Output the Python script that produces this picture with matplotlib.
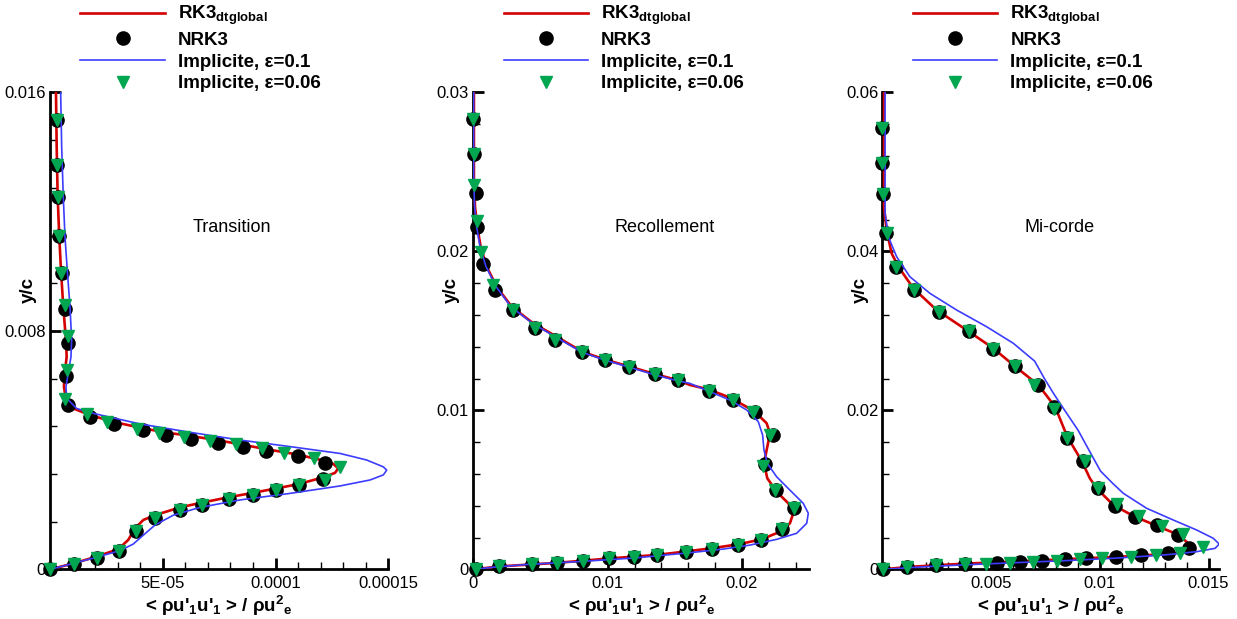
import numpy as np
import matplotlib
matplotlib.use("Agg")
import matplotlib.pyplot as plt
from matplotlib.ticker import MultipleLocator, FixedLocator, FixedFormatter

plt.rcParams['font.family'] = ['Liberation Sans', 'DejaVu Sans']
plt.rcParams['mathtext.fontset'] = 'custom'
plt.rcParams['mathtext.rm'] = 'Liberation Sans'
plt.rcParams['mathtext.bf'] = 'Liberation Sans:bold'
plt.rcParams['mathtext.it'] = 'Liberation Sans:italic'

# ---- Transition ----
t_rk3_x = [2.66e-6, 2.97e-6, 3.41e-6, 4.12e-6, 4.88e-6, 5.9e-6, 7.09e-6, 7.4e-6, 6.52e-6, 6.2e-6, 7.09e-6,
           1.03e-5, 1.77e-5, 2.81e-5, 4.14e-5, 5.17e-5, 6.28e-5, 7.39e-5, 8.42e-5, 9.61e-5, 1.094e-4, 1.219e-4,
           1.256e-4, 1.278e-4, 1.264e-4, 1.212e-4, 1.101e-4, 1.005e-4, 9.01e-5, 7.91e-5, 6.73e-5, 5.76e-5,
           4.66e-5, 4.14e-5, 3.77e-5, 3.47e-5, 3.03e-5, 2.07e-5, 1.03e-5, 0.0]
t_rk3_y = [0.016, 0.01418, 0.0125, 0.01116, 0.01004, 0.00881, 0.00769, 0.00713, 0.00658, 0.00613, 0.00568,
           0.0054, 0.00518, 0.00495, 0.00473, 0.00459, 0.00447, 0.00434, 0.0042, 0.00403, 0.00386, 0.00364,
           0.00354, 0.00339, 0.00324, 0.00309, 0.00286, 0.00272, 0.00257, 0.00242, 0.00224, 0.00208,
           0.00182, 0.00166, 0.00138, 0.00099, 0.00068, 0.00043, 0.0002, 0.0]
t_imp1_x = [4.74e-6, 5.19e-6, 5.9e-6, 6.65e-6, 7.67e-6, 8.87e-6, 9.62e-6, 9.31e-6, 8.11e-6, 7.09e-6, 7.4e-6,
            1.18e-5, 1.77e-5, 3.99e-5, 6.21e-5, 8.42e-5, 1.064e-4, 1.286e-4, 1.404e-4, 1.478e-4, 1.493e-4,
            1.478e-4, 1.419e-4, 1.286e-4, 1.064e-4, 8.42e-5, 6.65e-5, 5.47e-5, 4.66e-5, 4.14e-5, 3.69e-5,
            3.1e-5, 2.07e-5, 1.03e-5, 0.0]
t_imp1_y = [0.016, 0.01418, 0.0125, 0.01116, 0.01004, 0.00881, 0.00769, 0.00713, 0.00658, 0.00613, 0.00574,
            0.0054, 0.00526, 0.00488, 0.0046, 0.00434, 0.00412, 0.00389, 0.00367, 0.00344, 0.00333,
            0.00317, 0.003, 0.0028, 0.00255, 0.00233, 0.00208, 0.00182, 0.00149, 0.00115, 0.00085,
            0.00063, 0.00041, 0.0002, 0.0]
t_nrk3_x = [2.97e-6, 3.26e-6, 3.56e-6, 4.15e-6, 5.34e-6, 6.53e-6, 7.86e-6, 7.27e-6, 8.16e-6, 1.78e-5, 2.82e-5,
            4.14e-5, 5.16e-5, 6.26e-5, 7.43e-5, 8.58e-5, 9.57e-5, 1.098e-4, 1.221e-4, 1.211e-4, 1.105e-4,
            1.004e-4, 9.02e-5, 7.94e-5, 6.72e-5, 5.76e-5, 4.67e-5, 3.83e-5, 3.04e-5, 2.08e-5, 1.07e-5, 0.0]
t_nrk3_y = [0.01506, 0.01355, 0.01249, 0.01117, 0.00993, 0.00875, 0.0076, 0.0065, 0.00553, 0.0051, 0.00489,
            0.00466, 0.00452, 0.00437, 0.00424, 0.00411, 0.00397, 0.0038, 0.00357, 0.00303, 0.00282,
            0.00265, 0.0025, 0.00236, 0.00216, 0.00199, 0.00173, 0.0013, 0.00063, 0.00038, 0.00017, 0.0]
t_imp06_x = [2.97e-6, 3.26e-6, 3.56e-6, 4.15e-6, 5.04e-6, 6.53e-6, 7.86e-6, 7.57e-6, 6.68e-6, 1.63e-5, 2.52e-5,
             3.84e-5, 4.82e-5, 5.95e-5, 7.09e-5, 8.23e-5, 9.39e-5, 1.039e-4, 1.169e-4, 1.288e-4, 1.221e-4,
             1.105e-4, 1.004e-4, 9.02e-5, 7.94e-5, 6.72e-5, 5.76e-5, 4.67e-5, 3.83e-5, 3.04e-5, 2.08e-5,
             1.07e-5, 0.0]
t_imp06_y = [0.01506, 0.01355, 0.01249, 0.01117, 0.00993, 0.00886, 0.00783, 0.00668, 0.0057, 0.0052, 0.00495,
             0.0047, 0.00458, 0.00445, 0.00432, 0.0042, 0.00406, 0.00391, 0.00374, 0.00345, 0.00299,
             0.00282, 0.00265, 0.0025, 0.00236, 0.00216, 0.00199, 0.00173, 0.0013, 0.00063, 0.00038,
             0.00017, 0.0]

# ---- Recollement ----
r_rk3_x = [5e-5, 5e-5, 1.3e-4, 3e-4, 5.5e-4, 1e-3, 1.74e-3, 2.86e-3, 4.46e-3, 6.2e-3, 8.11e-3, 9.83e-3,
           0.01161, 0.01355, 0.01521, 0.01612, 0.01749, 0.01923, 0.02096, 0.02183, 0.02208, 0.02188, 0.02163,
           0.02188, 0.02257, 0.02344, 0.02381, 0.02356, 0.02282, 0.02146, 0.01972, 0.01774, 0.01612,
           0.01365, 0.01012, 0.0062, 0.00194, 0.0]
r_rk3_y = [0.03, 0.02449, 0.02281, 0.02155, 0.0203, 0.01904, 0.01778, 0.01652, 0.01548, 0.01464, 0.01369,
           0.01319, 0.01276, 0.01228, 0.0119, 0.0116, 0.01133, 0.01076, 0.00992, 0.00919, 0.00856, 0.00772,
           0.00667, 0.00573, 0.00489, 0.00416, 0.00353, 0.0029, 0.00237, 0.00189, 0.00158, 0.00133,
           0.00116, 0.00091, 0.00069, 0.00041, 0.00019, 0.0]
r_imp1_x = [3e-5, 3e-5, 1e-4, 2.5e-4, 5e-4, 9.5e-4, 1.7e-3, 2.8e-3, 4.4e-3, 6.2e-3, 8.1e-3, 9.8e-3, 0.0116,
            0.0135, 0.0152, 0.01612, 0.01761, 0.0191, 0.02034, 0.02121, 0.02153, 0.02163, 0.02188, 0.02257,
            0.02356, 0.02455, 0.02493, 0.02481, 0.02406, 0.02257, 0.02059, 0.0186, 0.01612, 0.012, 0.008,
            0.004, 0.0015, 0.0]
r_imp1_y = [0.03, 0.02449, 0.02281, 0.02155, 0.0203, 0.01904, 0.01778, 0.01652, 0.01548, 0.01458, 0.01365,
            0.01316, 0.01272, 0.01224, 0.01186, 0.0117, 0.01118, 0.01065, 0.01003, 0.00929, 0.00845, 0.00751,
            0.00667, 0.00583, 0.00499, 0.00416, 0.00353, 0.0029, 0.00227, 0.00189, 0.00153, 0.00128,
            0.00105, 0.00072, 0.0005, 0.00031, 0.00014, 0.0]
r_nrk3_x = [0.0, 5e-5, 1.7e-4, 2.5e-4, 7.2e-4, 0.00164, 0.00295, 0.00459, 0.00608, 0.00811, 0.00983, 0.01161,
            0.01355, 0.01521, 0.01757, 0.01931, 0.02097, 0.02233, 0.02171, 0.02251, 0.02387, 0.023, 0.02139,
            0.01973, 0.01774, 0.01581, 0.01365, 0.01199, 0.01012, 0.00819, 0.0062, 0.00439, 0.00194, 0.0002]
r_nrk3_y = [0.02832, 0.02612, 0.02369, 0.02155, 0.01922, 0.01756, 0.01631, 0.01519, 0.01444, 0.01369, 0.01319,
            0.01276, 0.01228, 0.0119, 0.01125, 0.01067, 0.00991, 0.00845, 0.00662, 0.005, 0.00388, 0.00252,
            0.00188, 0.00155, 0.00127, 0.00108, 0.00091, 0.0008, 0.00069, 0.00054, 0.00041, 0.00037,
            0.00019, 0.0]
r_imp06_x = [0.0, 5e-5, 5e-5, 2.5e-4, 5.5e-4, 0.00144, 0.00295, 0.00459, 0.00608, 0.00811, 0.00983, 0.01161,
             0.01355, 0.01521, 0.01757, 0.01931, 0.02084, 0.02208, 0.02154, 0.02246, 0.02387, 0.023, 0.02139,
             0.01973, 0.01774, 0.01581, 0.01365, 0.01199, 0.01012, 0.00819, 0.0062, 0.00439, 0.00194, 0.0002]
r_imp06_y = [0.02832, 0.02612, 0.02418, 0.02192, 0.01994, 0.01789, 0.01631, 0.01519, 0.01444, 0.01369, 0.01319,
             0.01276, 0.01228, 0.0119, 0.01125, 0.01067, 0.00991, 0.00845, 0.00651, 0.005, 0.00388, 0.00252,
             0.00188, 0.00155, 0.00127, 0.00108, 0.00091, 0.0008, 0.00069, 0.00054, 0.00041, 0.00037,
             0.00019, 0.0]

# ---- Mi-corde ----
m_rk3_x = [7e-5, 7e-5, 1.9e-4, 4.2e-4, 7.3e-4, 1.42e-3, 2.49e-3, 3.87e-3, 5.1e-3, 6.02e-3, 7.17e-3, 7.94e-3,
           8.5e-3, 9.16e-3, 9.54e-3, 9.85e-3, 0.01062, 0.01154, 0.01253, 0.01353, 0.01399, 0.01407, 0.01368,
           0.01184, 0.00985, 0.00755, 0.00525, 0.00378, 0.00247, 0.00113, 0.0]
m_rk3_y = [0.06, 0.04562, 0.04269, 0.03976, 0.03808, 0.03536, 0.03263, 0.03011, 0.02781, 0.02571, 0.0232,
           0.02047, 0.01669, 0.01367, 0.01146, 0.0102, 0.0081, 0.00672, 0.00558, 0.00445, 0.00348, 0.00265,
           0.0021, 0.00172, 0.00147, 0.00118, 0.00089, 0.00073, 0.00052, 0.0003, 0.0]
m_imp1_x = [1.2e-4, 1.2e-4, 2.7e-4, 6.5e-4, 1.26e-3, 2.18e-3, 3.41e-3, 4.79e-3, 6.02e-3, 7.0e-3, 7.45e-3,
            7.9e-3, 8.32e-3, 9.0e-3, 9.6e-3, 0.01003, 0.0106, 0.01108, 0.01215, 0.01338, 0.01445, 0.01522,
            0.01549, 0.0153, 0.01445, 0.01292, 0.01062, 0.00832, 0.00602, 0.004, 0.002, 0.0]
m_imp1_y = [0.06, 0.04479, 0.04185, 0.03934, 0.03682, 0.03473, 0.03263, 0.03053, 0.02844, 0.0262, 0.024,
            0.022, 0.02026, 0.0175, 0.0145, 0.01237, 0.0108, 0.00957, 0.00769, 0.00621, 0.00496, 0.00391,
            0.00319, 0.00265, 0.00223, 0.00181, 0.0014, 0.00109, 0.00084, 0.0006, 0.00035, 0.0]
m_nrk3_x = [0.0, 0.0, 4.6e-5, 1.5e-4, 6.2e-4, 0.00144, 0.00262, 0.00397, 0.00509, 0.0061, 0.00715, 0.00787,
            0.0085, 0.00923, 0.00991, 0.01069, 0.0116, 0.01261, 0.01358, 0.01409, 0.01312, 0.01191, 0.01073,
            0.00937, 0.00838, 0.00735, 0.00633, 0.00528, 0.00378, 0.00247, 0.00113, 3e-5]
m_nrk3_y = [0.05547, 0.05108, 0.04716, 0.04233, 0.03802, 0.03513, 0.03241, 0.02996, 0.02776, 0.0256, 0.02315,
            0.02047, 0.01659, 0.01366, 0.0103, 0.00797, 0.00664, 0.00556, 0.00431, 0.00267, 0.00211, 0.00181,
            0.00159, 0.00138, 0.00125, 0.00112, 0.00095, 0.00086, 0.00073, 0.00052, 0.0003, 0.0]
m_imp06_x = [0.0, 0.0, 4.6e-5, 1.9e-4, 6.2e-4, 0.00144, 0.00262, 0.00397, 0.00509, 0.0061, 0.00699, 0.00787,
             0.0085, 0.00931, 0.00991, 0.0108, 0.0118, 0.01284, 0.01384, 0.01474, 0.0137, 0.01258, 0.01145,
             0.01008, 0.0091, 0.00802, 0.00694, 0.00586, 0.00478, 0.00378, 0.00247, 0.00113, 3e-5]
m_imp06_y = [0.05547, 0.05108, 0.04716, 0.04233, 0.03802, 0.03513, 0.03241, 0.02996, 0.02776, 0.0256, 0.02315,
             0.02013, 0.01659, 0.01366, 0.0103, 0.00819, 0.00677, 0.00548, 0.0044, 0.0028, 0.00211, 0.00181,
             0.00155, 0.00138, 0.00125, 0.00112, 0.00095, 0.00082, 0.00073, 0.00065, 0.00052, 0.0003, 0.0]

titles = ['Transition', 'Recollement', 'Mi-corde']
xlims = [0.00015, 0.025, 0.0155]
ylims = [0.016, 0.03, 0.06]
x_minor = [1e-5, 0.002, 0.001]
y_minor = [0.0016, 0.002, 0.004]
x_ticklabels = [['5E-05', '0.0001', '0.00015'], ['0', '0.01', '0.02'], ['0.005', '0.01', '0.015']]
x_tickvals = [[5e-5, 1e-4, 1.5e-4], [0.0, 0.01, 0.02], [0.005, 0.01, 0.015]]
y_ticklabels = [['0', '0.008', '0.016'], ['0', '0.01', '0.02', '0.03'], ['0', '0.02', '0.04', '0.06']]
y_tickvals = [[0, 0.008, 0.016], [0, 0.01, 0.02, 0.03], [0, 0.02, 0.04, 0.06]]
title_pos = [0.538, 0.569, 0.527]

data = [
    (t_rk3_x, t_rk3_y, t_nrk3_x, t_nrk3_y, t_imp1_x, t_imp1_y, t_imp06_x, t_imp06_y),
    (r_rk3_x, r_rk3_y, r_nrk3_x, r_nrk3_y, r_imp1_x, r_imp1_y, r_imp06_x, r_imp06_y),
    (m_rk3_x, m_rk3_y, m_nrk3_x, m_nrk3_y, m_imp1_x, m_imp1_y, m_imp06_x, m_imp06_y),
]

red = '#d40000'
blue = '#3c3cff'
green = '#00a650'

# plain apostrophes, sub/superscripts through mathtext
xlabel = r"< ρu'$_\mathbf{1}$u'$_\mathbf{1}$ > / ρu$^\mathbf{2}$$_\mathbf{e}$"

fig = plt.figure(figsize=(12.37, 6.19), dpi=100)
lefts = [0.0404, 0.3826, 0.7134]
widths = [0.2735, 0.2716, 0.2724]

for i in range(3):
    ax = fig.add_axes([lefts[i], 0.0801, widths[i], 0.7706])
    rx, ry, nx, ny, ix, iy, gx, gy = data[i]
    ax.plot(rx, ry, color=red, lw=1.9, label=r'RK3$_{\mathbf{dtglobal}}$', zorder=3)
    ax.plot(nx, ny, 'o', color='black', ms=9.5, ls='none', label='NRK3', clip_on=False, zorder=4)
    ax.plot(ix, iy, color=blue, lw=1.2, label='Implicite, ε=0.1', zorder=5)
    ax.plot(gx, gy, 'v', color=green, ms=8, ls='none', label='Implicite, ε=0.06', clip_on=False, zorder=6)

    ax.set_xlim(0, xlims[i])
    ax.set_ylim(0, ylims[i])
    for s in ['top', 'right']:
        ax.spines[s].set_visible(False)
    for s in ['left', 'bottom']:
        ax.spines[s].set_linewidth(2.0)
    ax.xaxis.set_major_locator(FixedLocator(x_tickvals[i]))
    ax.xaxis.set_major_formatter(FixedFormatter(x_ticklabels[i]))
    ax.yaxis.set_major_locator(FixedLocator(y_tickvals[i]))
    ax.yaxis.set_major_formatter(FixedFormatter(y_ticklabels[i]))
    ax.xaxis.set_minor_locator(MultipleLocator(x_minor[i]))
    ax.yaxis.set_minor_locator(MultipleLocator(y_minor[i]))
    ax.tick_params(which='major', direction='in', length=8, width=2.0, labelsize=12, pad=5)
    ax.tick_params(which='minor', direction='in', length=5, width=1.0)
    ax.tick_params(axis='y', which='major', pad=3)

    ax.set_ylabel('y/c', fontsize=13.5, fontweight='bold')
    ax.yaxis.set_label_coords(-0.04, 0.585)
    ax.set_xlabel(xlabel, fontsize=13.5, fontweight='bold', labelpad=2)
    ax.text(title_pos[i], 0.716, titles[i], transform=ax.transAxes, fontsize=13, ha='center', va='center')

    ax.legend(loc='upper left', bbox_to_anchor=(0.09, 1.185), frameon=False,
              prop={'weight': 'bold', 'size': 13.5}, handlelength=4.5, handletextpad=0.7,
              labelspacing=0.24, borderpad=0, borderaxespad=0, numpoints=1)

fig.savefig('out.png', dpi=100)
